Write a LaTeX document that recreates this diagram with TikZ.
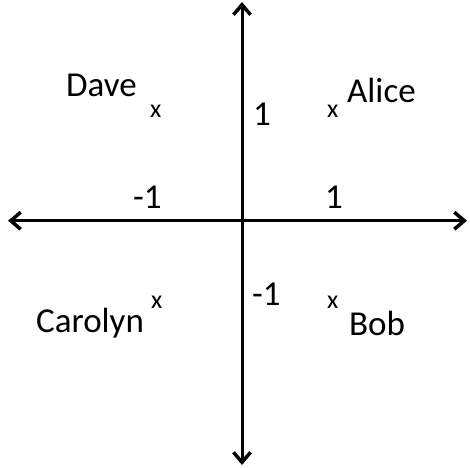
\documentclass[tikz,border=0pt]{standalone}
\usepackage{fontspec}
\setmainfont{Carlito}
\usetikzlibrary{arrows.meta}
\begin{document}
\begin{tikzpicture}[x=1pt,y=-1pt,
  barb/.tip={Straight Barb[length=10pt,width=17pt,line width=3.5pt]},
  axis/.style={line width=3pt,barb-barb},
  lbl/.style={anchor=base west,inner sep=0pt,font=\fontsize{35}{40}\selectfont},
  xmark/.style={anchor=base west,inner sep=0pt,font=\fontsize{26}{30}\selectfont}]
\useasboundingbox (0,0) rectangle (470,467);
\coordinate (L) at (8,220.7);
\coordinate (R) at (467,220.7);
\coordinate (T) at (242,2);
\coordinate (B) at (242,465);
\draw[axis] (L) -- (R);
\draw[axis] (T) -- (B);
\node[lbl] (dave) at (66,96.7) {Dave};
\node[xmark] (xd) at (150,117) {x};
\node[lbl] (oneU) at (253,125) {1};
\node[xmark] (xa) at (327,117) {x};
\node[lbl] (alice) at (347,102) {Alice};
\node[lbl] (m1L) at (133,208) {-1};
\node[lbl] (oneR) at (325,208) {1};
\node[lbl] (carolyn) at (36,332) {Carolyn};
\node[xmark] (xc) at (151,308) {x};
\node[lbl] (m1B) at (252,305) {-1};
\node[xmark] (xb) at (327,308) {x};
\node[lbl] (bob) at (349,335) {Bob};
\end{tikzpicture}
\end{document}
